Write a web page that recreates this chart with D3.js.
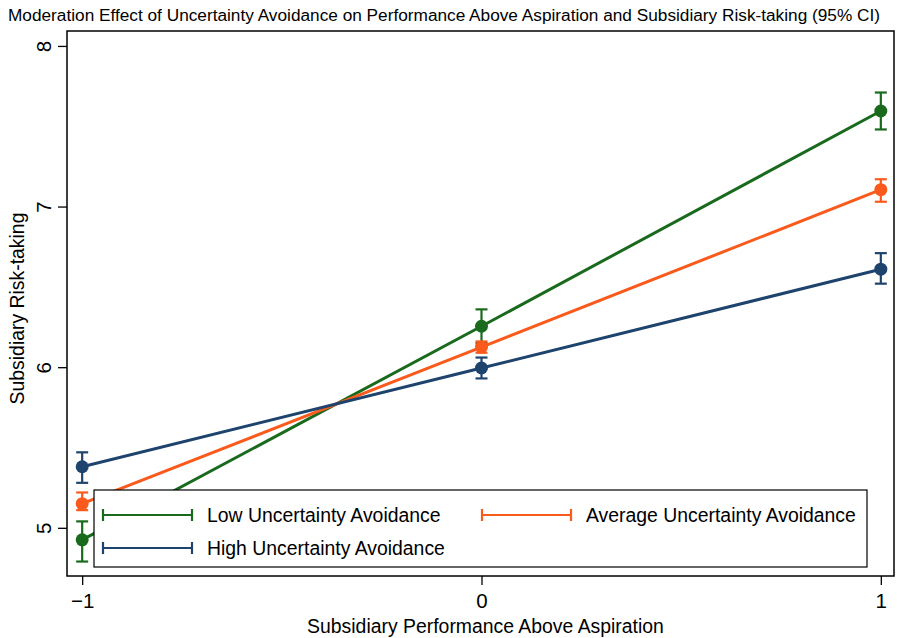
<!DOCTYPE html>
<html>
<head>
<meta charset="utf-8">
<script src="https://cdn.jsdelivr.net/npm/d3@7"></script>
<style>
  body { margin: 0; background: #fff; }
  svg text { font-family: "Liberation Sans", Arial, sans-serif; fill: #000; }
</style>
</head>
<body>
<div id="chart"></div>
<script>
// chart data
const xValues = [-1, 0, 1];
const seriesNames = ['Low Uncertainty Avoidance', 'Average Uncertainty Avoidance', 'High Uncertainty Avoidance'];
const seriesColors = ['#1a6a1e', '#fa5a1c', '#1e446e'];
const lowMean = [4.925, 6.255, 7.595];
const lowLo = [4.79, 6.15, 7.48];
const lowHi = [5.04, 6.36, 7.71];
const avgMean = [5.15, 6.125, 7.105];
const avgLo = [5.11, 6.09, 7.03];
const avgHi = [5.22, 6.16, 7.17];
const highMean = [5.38, 5.995, 6.61];
const highLo = [5.28, 5.93, 6.52];
const highHi = [5.47, 6.06, 6.71];
const xTicks = [-1, 0, 1];
const yTicks = [5, 6, 7, 8];

const chartTitle = 'Moderation Effect of Uncertainty Avoidance on Performance Above Aspiration and Subsidiary Risk-taking (95% CI)';
const xLabel = 'Subsidiary Performance Above Aspiration';
const yLabel = 'Subsidiary Risk-taking';

const series = [
  {name: seriesNames[0], color: seriesColors[0], mean: lowMean, lo: lowLo, hi: lowHi},
  {name: seriesNames[1], color: seriesColors[1], mean: avgMean, lo: avgLo, hi: avgHi},
  {name: seriesNames[2], color: seriesColors[2], mean: highMean, lo: highLo, hi: highHi}
];

const W = 897, H = 638;
const margin = {top: 31, right: 3, bottom: 62, left: 67};
const width = W - margin.left - margin.right,
      height = H - margin.top - margin.bottom;

const svg = d3.select('#chart').append('svg')
    .attr('width', W).attr('height', H);

svg.append('text')
  .attr('x', 8).attr('y', 21)
  .attr('textLength', 872).attr('lengthAdjust', 'spacingAndGlyphs')
  .style('font-size', '16px')
  .text(chartTitle);

const g = svg.append('g')
  .attr('transform', `translate(${margin.left},${margin.top})`);

const x = d3.scaleLinear().domain([-1.038, 1.033]).range([0, width]);
const y = d3.scaleLinear().domain([4.7, 8.093]).range([height, 0]);

// frame
g.append('rect')
  .attr('width', width).attr('height', height)
  .attr('fill', 'none').attr('stroke', '#000').attr('stroke-width', 1.5);

// axes
const xAxis = g.append('g')
  .attr('transform', `translate(0,${height})`)
  .call(d3.axisBottom(x).tickValues(xTicks).tickSize(9).tickPadding(8)
    .tickFormat(d => d < 0 ? '\u22121' : d));
const yAxis = g.append('g')
  .call(d3.axisLeft(y).tickValues(yTicks).tickSize(9).tickFormat(d3.format('d')));
[xAxis, yAxis].forEach(a => {
  a.select('.domain').remove();
  a.selectAll('line').attr('stroke', '#000').attr('stroke-width', 1.3);
  a.selectAll('text').style('font-size', '20.5px').attr('fill', '#000');
});
yAxis.selectAll('text')
  .attr('text-anchor', 'middle')
  .attr('x', 0).attr('dy', '0.35em')
  .attr('transform', 'translate(-23,0) rotate(-90)');

// axis labels
svg.append('text')
  .attr('text-anchor', 'middle')
  .attr('transform', `translate(${margin.left + x(0) + 4},${H - 5})`)
  .style('font-size', '19.4px')
  .text(xLabel);
svg.append('text')
  .attr('text-anchor', 'middle')
  .attr('transform', `translate(24,${margin.top + height / 2 + 5}) rotate(-90)`)
  .style('font-size', '19.4px')
  .text(yLabel);

// series
const line = d3.line().x((d, i) => x(xValues[i])).y(d => y(d));
const capW = 6;
series.forEach(s => {
  const sg = g.append('g');
  sg.append('path')
    .attr('d', line(s.mean))
    .attr('fill', 'none').attr('stroke', s.color).attr('stroke-width', 3);
  xValues.forEach((xv, i) => {
    const cx = x(xv);
    sg.append('line')
      .attr('x1', cx).attr('x2', cx).attr('y1', y(s.lo[i])).attr('y2', y(s.hi[i]))
      .attr('stroke', s.color).attr('stroke-width', 2.2);
    [s.lo[i], s.hi[i]].forEach(v => {
      sg.append('line')
        .attr('x1', cx - capW).attr('x2', cx + capW).attr('y1', y(v)).attr('y2', y(v))
        .attr('stroke', s.color).attr('stroke-width', 2.2);
    });
    sg.append('circle')
      .attr('cx', cx).attr('cy', y(s.mean[i])).attr('r', 6.5)
      .attr('fill', s.color);
  });
});

// legend
const legend = svg.append('g').attr('transform', 'translate(94,490)');
legend.append('rect')
  .attr('width', 773).attr('height', 77)
  .attr('fill', '#fff').attr('stroke', '#000').attr('stroke-width', 1.2);
const legendPos = [[9, 25], [388, 25], [9, 58]];
series.forEach((s, i) => {
  const [lx, ly] = legendPos[i];
  const lg = legend.append('g').attr('transform', `translate(${lx},${ly})`);
  lg.append('line').attr('x1', 0).attr('x2', 89).attr('y1', 0).attr('y2', 0)
    .attr('stroke', s.color).attr('stroke-width', 2.2);
  [0, 89].forEach(px => lg.append('line')
    .attr('x1', px).attr('x2', px).attr('y1', -6).attr('y2', 6)
    .attr('stroke', s.color).attr('stroke-width', 2.2));
  lg.append('text').attr('x', 104).attr('y', 0).attr('dy', '0.35em')
    .style('font-size', '19.4px')
    .text(s.name);
});
</script>
</body>
</html>
